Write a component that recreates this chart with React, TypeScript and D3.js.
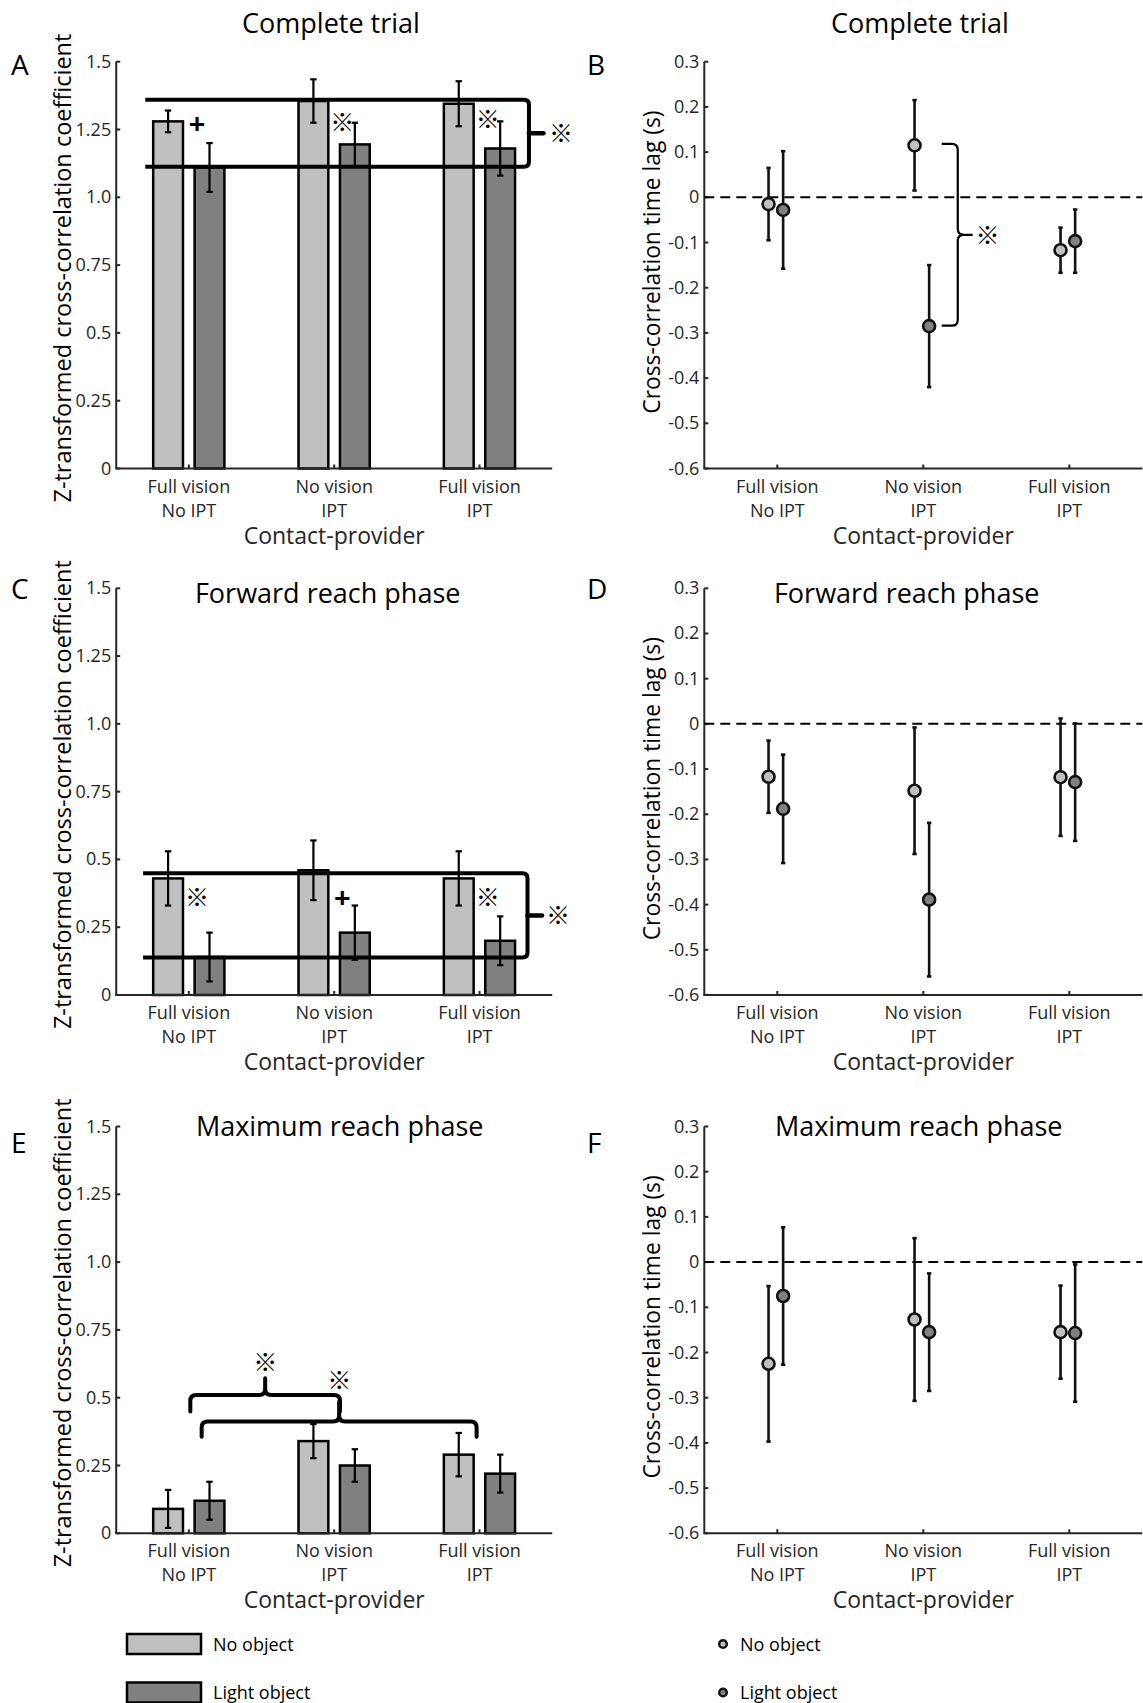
import React, { useEffect, useRef } from "react";
import * as d3 from "d3";

// categories
const groupPos = [1, 2, 3];
const groupLine1 = ["Full vision", "No vision", "Full vision"];
const groupLine2 = ["No IPT", "IPT", "IPT"];
const seriesNames = ["No object", "Light object"];
const seriesFill = ["#c0c0c0", "#808080"];

// A, C, E: z-transformed cross-correlation coefficient (mean, error)
const completeNoObj = [1.28, 1.355, 1.345];
const completeNoObjErr = [0.04, 0.08, 0.083];
const completeLight = [1.11, 1.195, 1.18];
const completeLightErr = [0.09, 0.08, 0.1];
const forwardNoObj = [0.43, 0.46, 0.43];
const forwardNoObjErr = [0.1, 0.11, 0.1];
const forwardLight = [0.14, 0.23, 0.2];
const forwardLightErr = [0.09, 0.1, 0.09];
const maxNoObj = [0.09, 0.34, 0.29];
const maxNoObjErr = [0.07, 0.063, 0.08];
const maxLight = [0.12, 0.25, 0.22];
const maxLightErr = [0.07, 0.06, 0.07];

// B, D, F: cross-correlation time lag in s (mean, error)
const lagCompleteNoObj = [-0.015, 0.115, -0.117];
const lagCompleteNoObjErr = [0.08, 0.1, 0.05];
const lagCompleteLight = [-0.028, -0.285, -0.097];
const lagCompleteLightErr = [0.13, 0.135, 0.07];
const lagForwardNoObj = [-0.117, -0.148, -0.118];
const lagForwardNoObjErr = [0.08, 0.14, 0.13];
const lagForwardLight = [-0.188, -0.389, -0.129];
const lagForwardLightErr = [0.12, 0.17, 0.13];
const lagMaxNoObj = [-0.225, -0.127, -0.155];
const lagMaxNoObjErr = [0.172, 0.18, 0.103];
const lagMaxLight = [-0.075, -0.155, -0.157];
const lagMaxLightErr = [0.152, 0.13, 0.152];

// ticks
const coefTicks = [0, 0.25, 0.5, 0.75, 1, 1.25, 1.5];
const coefTickLabels = ["0", "0.25", "0.5", "0.75", "1.0", "1.25", "1.5"];
const lagTicks = [0.3, 0.2, 0.1, 0, -0.1, -0.2, -0.3, -0.4, -0.5, -0.6];
const lagTickLabels = ["0.3", "0.2", "0.1", "0", "-0.1", "-0.2", "-0.3", "-0.4", "-0.5", "-0.6"];

// significance marks next to the bars
const completeMarks = ["+", "※", "※"];
const completeMarkY = [1.272, 1.279, 1.287];
const forwardMarks = ["※", "+", "※"];
const forwardMarkY = [0.361, 0.358, 0.361];

const FONT = "'Open Sans', 'Noto Sans', sans-serif";
const STAR_FONT = "'Noto Sans CJK JP', 'Open Sans', sans-serif";
const STAR_SIZE = 24;
const INK = "#262626";

function frame(g, x, y, o) {
  const x0 = x(0.5), x1 = x(3.5);
  const [yb, yt] = y.range();
  g.append("line").attr("x1", x0).attr("x2", x0).attr("y1", yt).attr("y2", yb)
    .attr("stroke", INK).attr("stroke-width", 2);
  g.append("line").attr("x1", x0 - 1).attr("x2", x1).attr("y1", yb).attr("y2", yb)
    .attr("stroke", INK).attr("stroke-width", 2);

  o.ticks.forEach((t, i) => {
    g.append("line").attr("x1", x0).attr("x2", x0 + 4).attr("y1", y(t)).attr("y2", y(t))
      .attr("stroke", INK).attr("stroke-width", 2);
    g.append("text").attr("x", x0 - 5).attr("y", y(t) + 6).attr("text-anchor", "end")
      .attr("font-size", 18).attr("fill", INK).text(o.labels[i]);
  });

  groupPos.forEach((p, i) => {
    g.append("line").attr("x1", x(p)).attr("x2", x(p)).attr("y1", yb).attr("y2", yb - 4)
      .attr("stroke", INK).attr("stroke-width", 2);
    g.append("text").attr("x", x(p)).attr("y", yb + 24).attr("text-anchor", "middle")
      .attr("font-size", 18).attr("fill", INK).text(groupLine1[i]);
    g.append("text").attr("x", x(p)).attr("y", yb + 48).attr("text-anchor", "middle")
      .attr("font-size", 18).attr("fill", INK).text(groupLine2[i]);
  });

  g.append("text").attr("x", x(2)).attr("y", yb + 75).attr("text-anchor", "middle")
    .attr("font-size", 23).attr("fill", INK).text("Contact-provider");

  g.append("text")
    .attr("transform", `translate(${o.ylabelX},${(yt + yb) / 2 + o.ylabelShift}) rotate(-90)`)
    .attr("text-anchor", "middle").attr("font-size", o.ylabelSize).attr("fill", "#000")
    .text(o.ylabel);

  g.append("text").attr("x", o.titleX).attr("y", o.titleY).attr("text-anchor", "middle")
    .attr("font-size", 27).attr("fill", "#000").text(o.title);

  g.append("text").attr("x", o.letterX).attr("y", o.letterY)
    .attr("font-size", 28).attr("fill", "#000").text(o.letter);
}

function bars(g, x, y, means, errs) {
  const offs = [-0.143, 0.142];
  const w = 0.205;
  means.forEach((m, s) => {
    g.selectAll(null).data(m).join("rect")
      .attr("x", (d, i) => x(groupPos[i] + offs[s] - w / 2))
      .attr("width", x(1 + w) - x(1))
      .attr("y", d => y(d))
      .attr("height", d => y(0) - y(d))
      .attr("fill", seriesFill[s]).attr("stroke", "#000").attr("stroke-width", 2.5);
  });
  return (gg) => {
    means.forEach((m, s) => {
      m.forEach((d, i) => {
        const cx = x(groupPos[i] + offs[s]);
        const lo = y(d - errs[s][i]), hi = y(d + errs[s][i]);
        gg.append("line").attr("x1", cx).attr("x2", cx).attr("y1", lo).attr("y2", hi)
          .attr("stroke", "#000").attr("stroke-width", 2.2);
        [lo, hi].forEach(v => gg.append("line").attr("x1", cx - 3.2).attr("x2", cx + 3.2)
          .attr("y1", v).attr("y2", v).attr("stroke", "#000").attr("stroke-width", 2.2));
      });
    });
  };
}

function dots(g, x, y, means, errs) {
  const offs = [-0.06, 0.04];
  g.append("line").attr("x1", x(0.5)).attr("x2", x(3.5)).attr("y1", y(0)).attr("y2", y(0))
    .attr("stroke", "#000").attr("stroke-width", 2).attr("stroke-dasharray", "10,6");
  means.forEach((m, s) => {
    m.forEach((d, i) => {
      const cx = x(groupPos[i] + offs[s]);
      const lo = y(d - errs[s][i]), hi = y(d + errs[s][i]);
      g.append("line").attr("x1", cx).attr("x2", cx).attr("y1", lo).attr("y2", hi)
        .attr("stroke", "#111").attr("stroke-width", 2.6);
      [lo, hi].forEach(v => g.append("line").attr("x1", cx - 2.2).attr("x2", cx + 2.2)
        .attr("y1", v).attr("y2", v).attr("stroke", "#111").attr("stroke-width", 2.6));
    });
  });
  means.forEach((m, s) => {
    g.selectAll(null).data(m).join("circle")
      .attr("cx", (d, i) => x(groupPos[i] + offs[s]))
      .attr("cy", d => y(d)).attr("r", 6)
      .attr("fill", seriesFill[s]).attr("stroke", "#111").attr("stroke-width", 2.6);
  });
}

// side bracket joining two horizontal lines (panels A, C)
function sideBracket(g, x, y, b) {
  const r = 5;
  const xs = x(b.spine), yt = y(b.top), ybt = y(b.bottom), ym = (yt + ybt) / 2;
  const p = `M${x(b.start)},${yt} H${xs - r} Q${xs},${yt} ${xs},${yt + r} V${ybt - r} Q${xs},${ybt} ${xs - r},${ybt} H${x(b.start)}`;
  g.append("path").attr("d", p).attr("fill", "none").attr("stroke", "#000").attr("stroke-width", 4);
  g.append("line").attr("x1", xs).attr("x2", x(b.tip)).attr("y1", ym).attr("y2", ym)
    .attr("stroke", "#000").attr("stroke-width", 4.5).attr("stroke-linecap", "round");
  g.append("text").attr("x", x(b.star)).attr("y", ym + 9).attr("text-anchor", "middle")
    .attr("font-family", STAR_FONT).attr("font-size", STAR_SIZE).text("※");
}

function marks(g, x, y, labels, ys) {
  labels.forEach((m, i) => {
    const plus = m === "+";
    g.append("text").attr("x", x(groupPos[i] + 0.056)).attr("y", y(ys[i]) + (plus ? 10 : 9))
      .attr("text-anchor", "middle")
      .attr("font-family", plus ? FONT : STAR_FONT)
      .attr("font-weight", plus ? 700 : 400)
      .attr("font-size", plus ? 29 : STAR_SIZE).text(m);
  });
}

function App() {
  const ref = useRef(null);

  useEffect(() => {
    document.body.style.margin = "0";
    const svg = d3.select(ref.current);
    svg.selectAll("*").remove();
    const root = svg.append("g").attr("font-family", FONT);

    const rowTop = [61.7, 588.3, 1126.5];
    const rowBot = [468.5, 995, 1533.3];
    const xL = d3.scaleLinear().domain([0.5, 3.5]).range([116.2, 552.2]);
    const xR = d3.scaleLinear().domain([0.5, 3.5]).range([704.3, 1142.3]);

    const coefY = rowTop.map((t, r) => d3.scaleLinear().domain([0, 1.5]).range([rowBot[r], t]));
    const lagY = rowTop.map((t, r) => d3.scaleLinear().domain([-0.6, 0.3]).range([rowBot[r], t]));

    const titles = ["Complete trial", "Forward reach phase", "Maximum reach phase"];
    const titleBase = [32.7, 603.3, 1136];
    const titleXL = [331, 327.7, 339.7];
    const titleXR = [920, 906.7, 918.7];
    const lettersL = ["A", "C", "E"];
    const lettersR = ["B", "D", "F"];
    const letterBase = [75, 599, 1153];

    const coefMeans = [
      [completeNoObj, completeLight],
      [forwardNoObj, forwardLight],
      [maxNoObj, maxLight],
    ];
    const coefErrs = [
      [completeNoObjErr, completeLightErr],
      [forwardNoObjErr, forwardLightErr],
      [maxNoObjErr, maxLightErr],
    ];
    const lagMeans = [
      [lagCompleteNoObj, lagCompleteLight],
      [lagForwardNoObj, lagForwardLight],
      [lagMaxNoObj, lagMaxLight],
    ];
    const lagErrs = [
      [lagCompleteNoObjErr, lagCompleteLightErr],
      [lagForwardNoObjErr, lagForwardLightErr],
      [lagMaxNoObjErr, lagMaxLightErr],
    ];

    for (let r = 0; r < 3; r++) {
      const gl = root.append("g");
      const y = coefY[r];
      const drawErr = bars(gl, xL, y, coefMeans[r], coefErrs[r]);
      if (r === 0) {
        sideBracket(gl, xL, y, { top: 1.36, bottom: 1.113, start: 0.7, spine: 3.34, tip: 3.44, star: 3.56 });
        marks(gl, xL, y, completeMarks, completeMarkY);
      }
      if (r === 1) {
        sideBracket(gl, xL, y, { top: 0.449, bottom: 0.138, start: 0.685, spine: 3.33, tip: 3.43, star: 3.54 });
        marks(gl, xL, y, forwardMarks, forwardMarkY);
      }
      drawErr(gl);
      frame(gl, xL, y, {
        ticks: coefTicks, labels: coefTickLabels,
        ylabel: "Z-transformed cross-correlation coefficient", ylabelX: 71,
        ylabelSize: 23.5, ylabelShift: 3,
        title: titles[r], titleX: titleXL[r], titleY: titleBase[r],
        letter: lettersL[r], letterX: 11, letterY: letterBase[r],
      });

      const gr = root.append("g");
      const ly = lagY[r];
      frame(gr, xR, ly, {
        ticks: lagTicks, labels: lagTickLabels,
        ylabel: "Cross-correlation time lag (s)", ylabelX: 660,
        ylabelSize: 22.8, ylabelShift: -3,
        title: titles[r], titleX: titleXR[r], titleY: titleBase[r],
        letter: lettersR[r], letterX: 587, letterY: letterBase[r],
      });
      dots(gr, xR, ly, lagMeans[r], lagErrs[r]);
    }

    // E: curly braces between groups
    const yE = coefY[2];
    const braces = [
      { from: 1.01, to: 2.04, line: 0.51, end: 0.449, peak: 0.572, star: 0.6 },
      { from: 1.088, to: 2.98, line: 0.412, end: 0.356, peak: 0.485, star: 0.532 },
    ];
    braces.forEach(b => {
      const r = 6;
      const a = xL(b.from), c = xL(b.to), m = (a + c) / 2;
      const yl = yE(b.line), ye = yE(b.end), yp = yE(b.peak);
      const p = `M${a},${ye} V${yl + r} Q${a},${yl} ${a + r},${yl} H${m - r} Q${m},${yl} ${m},${yl - r} V${yp}` +
        ` M${m},${yl - r} Q${m},${yl} ${m + r},${yl} H${c - r} Q${c},${yl} ${c},${yl + r} V${ye}`;
      root.append("path").attr("d", p).attr("fill", "none").attr("stroke", "#000")
        .attr("stroke-width", 4).attr("stroke-linecap", "round");
      root.append("text").attr("x", m).attr("y", yE(b.star)).attr("text-anchor", "middle")
        .attr("font-family", STAR_FONT).attr("font-size", STAR_SIZE).text("※");
    });

    // B: curly brace between the two No vision / IPT points
    const yB = lagY[0];
    const bb = { top: 0.118, bottom: -0.284, arm: 2.126, spine: 2.236, tip: 2.338, star: 2.44 };
    {
      const r = 6;
      const xa = xR(bb.arm), xs = xR(bb.spine), xt = xR(bb.tip);
      const yt = yB(bb.top), ybt = yB(bb.bottom), ym = (yt + ybt) / 2;
      const p = `M${xa},${yt} H${xs - r} Q${xs},${yt} ${xs},${yt + r} V${ym - r} Q${xs},${ym} ${xs + r},${ym} H${xt}` +
        ` M${xs + r},${ym} Q${xs},${ym} ${xs},${ym + r} V${ybt - r} Q${xs},${ybt} ${xs - r},${ybt} H${xa}`;
      root.append("path").attr("d", p).attr("fill", "none").attr("stroke", "#000").attr("stroke-width", 2.2);
      root.append("text").attr("x", xR(bb.star)).attr("y", ym + 9).attr("text-anchor", "middle")
        .attr("font-family", STAR_FONT).attr("font-size", STAR_SIZE).text("※");
    }

    // legends
    const legRectY = [1634, 1682.5];
    const legTextY = [1651, 1699];
    seriesNames.forEach((name, i) => {
      root.append("rect").attr("x", 127).attr("y", legRectY[i]).attr("width", 74).attr("height", 20)
        .attr("fill", seriesFill[i]).attr("stroke", "#000").attr("stroke-width", 2.5);
      root.append("text").attr("x", 213).attr("y", legTextY[i]).attr("font-size", 18)
        .attr("fill", "#000").text(name);
      root.append("circle").attr("cx", 723).attr("cy", legRectY[i] + 10).attr("r", 3.8)
        .attr("fill", seriesFill[i]).attr("stroke", "#111").attr("stroke-width", 2.5);
      root.append("text").attr("x", 740).attr("y", legTextY[i]).attr("font-size", 18)
        .attr("fill", "#000").text(name);
    });
  }, []);

  return <svg ref={ref} width={1143} height={1703} style={{ display: "block", background: "#fff" }} />;
}

export default App;
